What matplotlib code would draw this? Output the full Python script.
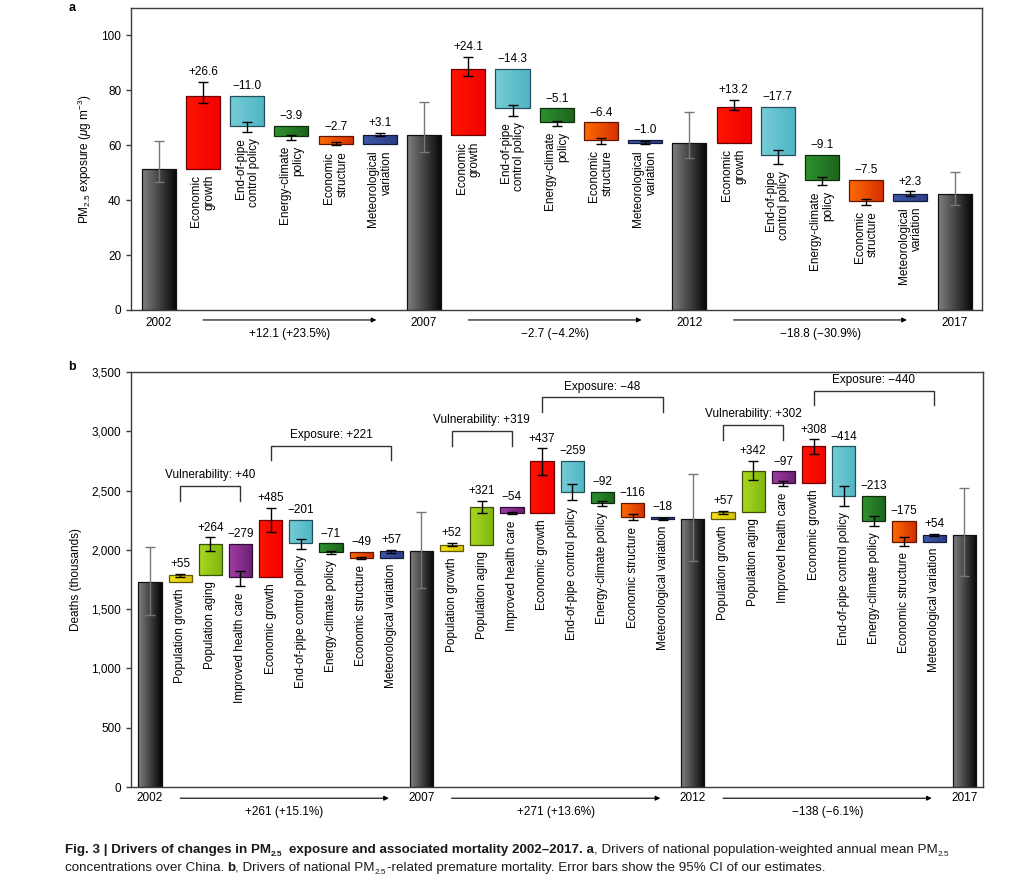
import numpy as np
import matplotlib
matplotlib.use("Agg")
import matplotlib.pyplot as plt
from matplotlib import font_manager
from matplotlib.colors import LinearSegmentedColormap, to_rgb
from matplotlib.transforms import blended_transform_factory
from matplotlib.ticker import FuncFormatter

MINUS = "\u2212"

# ---------------- data ----------------
years = ["2002", "2007", "2012", "2017"]

# panel a: population-weighted PM2.5 exposure (ug m-3)
pm_drivers = ["Economic\ngrowth", "End-of-pipe\ncontrol policy", "Energy-climate\npolicy",
              "Economic\nstructure", "Meteorological\nvariation"]
pm_totals = [51.5, 63.6, 60.9, 42.1]
pm_total_lo = [46.7, 57.7, 55.4, 38.3]
pm_total_hi = [61.7, 75.9, 72.3, 50.4]
pm_changes = [[26.6, -11.0, -3.9, -2.7, 3.1],
              [24.1, -14.3, -5.1, -6.4, -1.0],
              [13.2, -17.7, -9.1, -7.5, 2.3]]
pm_lo = [[75.5, 64.9, 62.0, 60.0, 63.2],
         [85.3, 70.6, 67.2, 60.6, 60.5],
         [73.0, 53.0, 45.5, 38.3, 41.5]]
pm_hi = [[83.2, 68.4, 63.7, 61.1, 64.4],
         [92.1, 74.7, 69.0, 62.6, 61.4],
         [76.6, 58.1, 48.3, 40.5, 43.2]]
pm_period = ["+12.1 (+23.5%)", MINUS + "2.7 (" + MINUS + "4.2%)", MINUS + "18.8 (" + MINUS + "30.9%)"]

# panel b: PM2.5-related deaths (thousands)
death_drivers = ["Population growth", "Population aging", "Improved health care", "Economic growth",
                 "End-of-pipe control policy", "Energy-climate policy", "Economic structure",
                 "Meteorological variation"]
death_totals = [1730, 1991, 2262, 2124]
death_total_lo = [1454, 1676, 1903, 1782]
death_total_hi = [2027, 2319, 2639, 2518]
death_changes = [[55, 264, -279, 485, -201, -71, -49, 57],
                 [52, 321, -54, 437, -259, -92, -116, -18],
                 [57, 342, -97, 308, -414, -213, -175, 54]]
death_lo = [[1771, 1993, 1695, 2147, 2010, 1965, 1923, 1976],
            [2032, 2307, 2302, 2630, 2417, 2372, 2248, 2254],
            [2302, 2585, 2538, 2807, 2372, 2201, 2035, 2116]]
death_hi = [[1799, 2105, 1825, 2355, 2094, 1993, 1942, 1999],
            [2055, 2414, 2316, 2855, 2552, 2414, 2305, 2268],
            [2330, 2748, 2582, 2931, 2538, 2285, 2105, 2133]]
death_period = ["+261 (+15.1%)", "+271 (+13.6%)", MINUS + "138 (" + MINUS + "6.1%)"]
vuln_labels = ["Vulnerability: +40", "Vulnerability: +319", "Vulnerability: +302"]
exp_labels = ["Exposure: +221", "Exposure: " + MINUS + "48", "Exposure: " + MINUS + "440"]

# ---------------- styles / layout ----------------
driver_colors = [("#f4e41c", "#d6c200"),   # population growth
                 ("#aad81f", "#7db50e"),   # population aging
                 ("#a03da6", "#6a1d72"),   # improved health care
                 ("#ff1500", "#f20000"),   # economic growth
                 ("#76cdd6", "#4fb5c5"),   # end-of-pipe
                 ("#2f922f", "#1c641c"),   # energy-climate
                 ("#ff6c00", "#d42e00"),   # economic structure
                 ("#4058a8", "#2b3d84")]   # meteorological
total_colors = ("#808080", "#050505")
bracket_vuln_y = [2538, 3002, 3052]
bracket_exp_y = [2878, 3286, 3340]
bracket_leg = 122

plt.rcParams["font.family"] = ["Liberation Sans", "DejaVu Sans"]
plt.rcParams["mathtext.fontset"] = "custom"
plt.rcParams["mathtext.rm"] = "Liberation Sans"
plt.rcParams["mathtext.it"] = "Liberation Sans:italic"
plt.rcParams["mathtext.bf"] = "Liberation Sans:bold"
plt.rcParams["font.size"] = 8.5
plt.rcParams["axes.unicode_minus"] = True

W, H = 1034, 881
fig = plt.figure(figsize=(W / 100, H / 100), dpi=100)
axa = fig.add_axes([131 / W, 1 - 310 / H, 851 / W, 302 / H])
axb = fig.add_axes([131 / W, 1 - 787 / H, 852 / W, 415 / H])


def darker(c, f=0.45):
    r, g, b = to_rgb(c)
    return (r * f, g * f, b * f)


def grad_bar(ax, x, y0, y1, width, cols, edge):
    lo, hi = min(y0, y1), max(y0, y1)
    rect = ax.bar([x], [hi - lo], bottom=[lo], width=width, facecolor="none",
                  edgecolor=edge, linewidth=0.9, zorder=3)[0]
    cmap = LinearSegmentedColormap.from_list("g", list(cols))
    im = ax.imshow(np.linspace(0, 1, 128).reshape(1, -1), cmap=cmap, aspect="auto",
                   extent=(x - width / 2, x + width / 2, lo, hi),
                   interpolation="bilinear", zorder=2)
    im.set_clip_path(rect)


def err(ax, x, mid, lo, hi, color, cap):
    ax.errorbar([x], [mid], yerr=[[max(mid - lo, 0)], [max(hi - mid, 0)]], fmt="none",
                ecolor=color, elinewidth=1.0, capsize=cap, capthick=1.0, zorder=4)


def signed(v, fmt):
    return format(v, fmt).replace("-", MINUS)


def panel(ax, totals, tlo, thi, changes, clo, chi, names, colors, fmt, periods,
          arrow_y, text_y, ypad):
    n = len(names)
    step = n + 1
    width = 0.77
    trans = blended_transform_factory(ax.transData, ax.transAxes)
    for g in range(len(totals)):
        x0 = g * step
        grad_bar(ax, x0, 0, totals[g], width, total_colors, "#111111")
        err(ax, x0, totals[g], tlo[g], thi[g], "#777777", 3.8)
        if g >= len(changes):
            continue
        cum = totals[g]
        for i, ch in enumerate(changes[g]):
            x = x0 + 1 + i
            new = cum + ch
            grad_bar(ax, x, cum, new, width, colors[i], darker(colors[i][1]))
            err(ax, x, new, clo[g][i], chi[g][i], "black", 3.6)
            top = max(cum, new, chi[g][i])
            bot = min(cum, new, clo[g][i])
            ax.annotate(signed(ch, fmt), (x, top), xytext=(0, 2.8), textcoords="offset points",
                        ha="center", va="bottom")
            ax.annotate(names[i], (x, bot), xytext=(0, -4.5), textcoords="offset points",
                        rotation=90, ha="center", va="top", multialignment="right",
                        linespacing=1.15)
            cum = new
        xs, xe = x0 + 1, x0 + step - 1.08
        ax.annotate("", xy=(xe, arrow_y), xytext=(xs, arrow_y), xycoords=trans, textcoords=trans,
                    arrowprops=dict(arrowstyle="-|>", color="black", lw=0.8,
                                    mutation_scale=7, shrinkA=0, shrinkB=0),
                    annotation_clip=False)
        ax.text((xs + xe) / 2, text_y, periods[g], transform=trans, ha="center", va="center")
    ax.set_xticks([g * step for g in range(len(totals))])
    ax.set_xticklabels(years)
    ax.tick_params(axis="x", length=0, pad=ypad)
    ax.set_xlim(-0.63, (len(totals) - 1) * step + 0.62)
    for s in ax.spines.values():
        s.set_color("#3c3c3c")
        s.set_linewidth(1.0)
    ax.tick_params(axis="y", direction="out", length=3.5, width=1.0, color="#3c3c3c")


panel(axa, pm_totals, pm_total_lo, pm_total_hi, pm_changes, pm_lo, pm_hi, pm_drivers,
      driver_colors[3:], "+.1f", pm_period, -0.033, -0.079, 5.0)
axa.set_ylim(0, 110)
axa.set_yticks([0, 20, 40, 60, 80, 100])
axa.set_ylabel("PM$_{2.5}$ exposure ($\\mu$g m$^{-3}$)")
axa.yaxis.set_label_coords(-0.044, 0.5)

panel(axb, death_totals, death_total_lo, death_total_hi, death_changes, death_lo, death_hi,
      death_drivers, driver_colors, "+d", death_period, -0.027, -0.060, 3.3)
axb.set_ylim(0, 3500)
axb.set_yticks(np.arange(0, 3501, 500))
axb.yaxis.set_major_formatter(FuncFormatter(lambda v, p: f"{int(v):,}"))
axb.set_ylabel("Deaths (thousands)")
axb.yaxis.set_label_coords(-0.0575, 0.5)

# brackets for vulnerability / exposure groups
for g in range(3):
    x0 = g * 9
    for (a, b), yt, lab in (((x0 + 1, x0 + 3), bracket_vuln_y[g], vuln_labels[g]),
                            ((x0 + 4, x0 + 8), bracket_exp_y[g], exp_labels[g])):
        axb.plot([a, a, b, b], [yt - bracket_leg, yt, yt, yt - bracket_leg], color="#333333",
                 lw=1.0, zorder=5, solid_joinstyle="miter")
        axb.annotate(lab, ((a + b) / 2, yt), xytext=(0, 3.5), textcoords="offset points",
                     ha="center", va="bottom")

fig.text(72 / W, 1 - 8 / H, "a", fontweight="bold", ha="center", va="center", fontsize=9)
fig.text(72 / W, 1 - 367 / H, "b", fontweight="bold", ha="center", va="center", fontsize=9)


# ---------------- caption ----------------
def has_font(name):
    try:
        font_manager.findfont(font_manager.FontProperties(family=name), fallback_to_default=False)
        return True
    except Exception:
        return False


if has_font("Liberation Sans Narrow"):
    cap_family, cap_size = "Liberation Sans Narrow", 11.75
else:
    cap_family, cap_size = "Liberation Sans", 9.6

fig.canvas.draw()
renderer = fig.canvas.get_renderer()
B, N = "bold", "normal"
lines = [
    (853, [("Fig. 3 | Drivers of changes in PM", B, 0), ("2.5", B, 1),
           ("exposure and associated mortality 2002\u20132017. a", B, 2),
           (", Drivers of national population-weighted annual mean PM", N, 0), ("2.5", N, 1)]),
    (871, [("concentrations over China.", N, 0), ("b", B, 2), (", Drivers of national PM", N, 0),
           ("2.5", N, 1),
           ("-related premature mortality. Error bars show the 95% CI of our estimates.", N, 0)]),
]
space = cap_size * 0.32
for ybase, pieces in lines:
    x = 65
    for k, (txt, weight, kind) in enumerate(pieces):
        if kind == 2:
            x += space
        if kind == 1:
            t = fig.text(x / W, 1 - (ybase + 3) / H, txt, fontsize=cap_size * 0.62, fontweight=weight,
                         family=cap_family, ha="left", va="baseline", color="#1a1a1a")
            x = t.get_window_extent(renderer=renderer).x1 + 0.5
            if k + 1 < len(pieces) and pieces[k + 1][0][0] not in "-,":
                x += space
            continue
        t = fig.text(x / W, 1 - ybase / H, txt, fontsize=cap_size, fontweight=weight,
                     family=cap_family, ha="left", va="baseline", color="#1a1a1a")
        x = t.get_window_extent(renderer=renderer).x1

fig.savefig("out.png", dpi=100)
